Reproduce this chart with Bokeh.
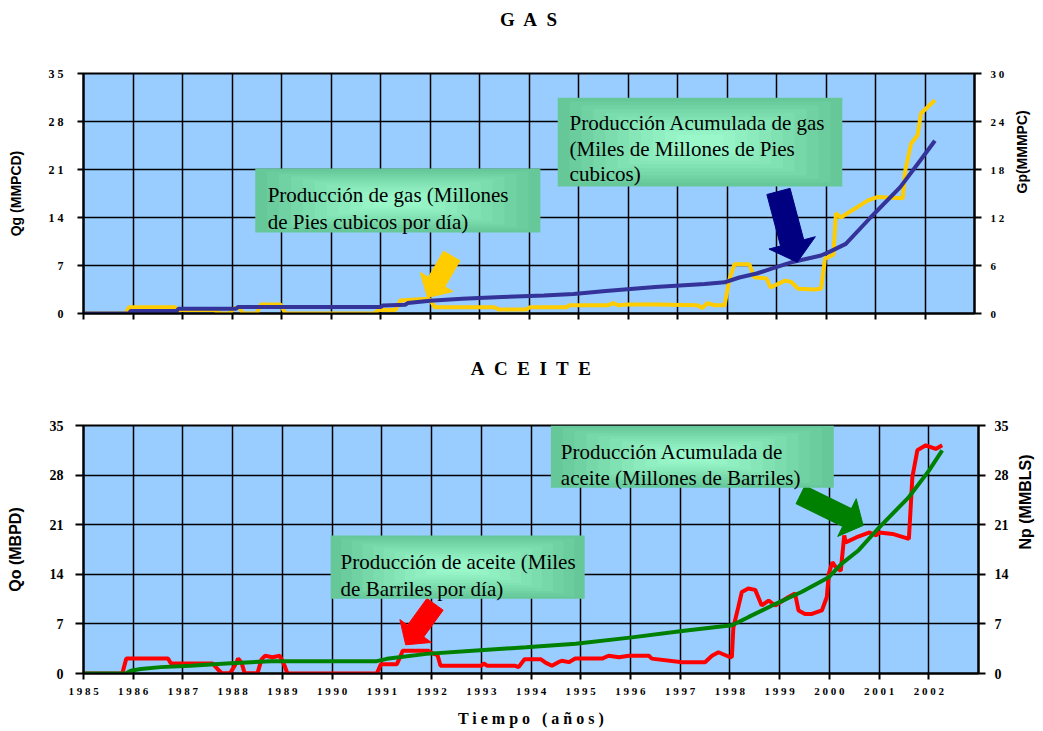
from math import hypot, pi
from bokeh.plotting import figure
from bokeh.models import Range1d, LinearAxis, FixedTicker, BoxAnnotation, Label
from bokeh.layouts import column
from bokeh.embed import file_html
from bokeh.resources import INLINE

# ---------------- data ----------------
years = [1985, 1986, 1987, 1988, 1989, 1990, 1991, 1992, 1993, 1994,
         1995, 1996, 1997, 1998, 1999, 2000, 2001, 2002]
year_labels = ["1 9 8 5", "1 9 8 6", "1 9 8 7", "1 9 8 8", "1 9 8 9", "1 9 9 0",
               "1 9 9 1", "1 9 9 2", "1 9 9 3", "1 9 9 4", "1 9 9 5", "1 9 9 6",
               "1 9 9 7", "1 9 9 8", "1 9 9 9", "2 0 0 0", "2 0 0 1", "2 0 0 2"]

qg_ticks = [0, 7, 14, 21, 28, 35]
qg_tick_labels = ["0", "7", "1 4", "2 1", "2 8", "3 5"]
gp_ticks = [0, 6, 12, 18, 24, 30]
gp_tick_labels = ["0", "6", "1 2", "1 8", "2 4", "3 0"]
qo_ticks = [0, 7, 14, 21, 28, 35]
qo_tick_labels = ["0", "7", "14", "21", "28", "35"]
np_ticks = [0, 7, 14, 21, 28, 35]
np_tick_labels = ["0", "7", "14", "21", "28", "35"]

# Gas rate Qg (MMPCD)
gas_year = [1985.0, 1985.85, 1985.92, 1986.85, 1986.92, 1987.65, 1987.75, 1987.95, 1988.05,
            1988.15, 1988.22, 1988.5, 1988.58, 1988.98, 1989.08, 1990.88, 1990.95, 1991.3,
            1991.4, 1991.9, 1992.0, 1992.1, 1993.3, 1993.38, 1993.95, 1994.02, 1994.75,
            1994.82, 1995.6, 1995.7, 1995.8, 1996.0, 1996.6, 1997.4, 1997.5, 1997.6,
            1997.75, 1997.95, 1998.05, 1998.15, 1998.45, 1998.55, 1998.8, 1998.88, 1999.17,
            1999.3, 1999.44, 1999.75, 1999.9, 1999.98, 2000.15, 2000.2, 2000.3, 2000.45,
            2000.85, 2001.05, 2001.55, 2001.6, 2001.72, 2001.85, 2001.92, 2002.2]
gas_rate = [0, 0, 0.9, 0.9, 0.5, 0.5, 0, 0, 0.8,
            0.8, 0, 0, 1.3, 1.3, 0, 0, 0.5, 0.5,
            1.9, 2.1, 2.0, 0.9, 0.9, 0.6, 0.6, 0.9, 0.9,
            1.2, 1.2, 1.5, 1.2, 1.3, 1.3, 1.2, 0.8, 1.5,
            1.2, 1.2, 5.0, 7.2, 7.2, 5.3, 5.1, 3.8, 4.8,
            4.6, 3.6, 3.5, 3.6, 8.0, 8.6, 14.6, 14.0, 14.7,
            16.5, 17.0, 16.8, 20.8, 24.8, 26.0, 29.2, 31.1]

# Cumulative gas Gp (MMMPC)
gp_year = [1985.0, 1985.92, 1985.95, 1986.88, 1986.92, 1988.08, 1988.12, 1991.0, 1991.05,
           1991.5, 1991.55, 1992.0, 1992.65, 1993.45, 1994.3, 1994.9, 1995.55, 1996.55,
           1997.55, 1997.95, 1998.25, 1998.6, 1998.9, 1999.3, 1999.9, 2000.1, 2000.4,
           2000.9, 2001.5, 2001.9, 2002.2]
gp_cum = [0, 0, 0.3, 0.3, 0.6, 0.6, 0.8, 0.8, 1.0,
          1.1, 1.3, 1.6, 1.85, 2.05, 2.25, 2.45, 2.8, 3.3,
          3.7, 3.9, 4.5, 5.0, 5.6, 6.4, 7.25, 7.8, 8.7,
          12.0, 15.8, 19.1, 21.6]

# Oil rate Qo (MBPD)
oil_year = [1985.0, 1985.78, 1985.86, 1986.7, 1986.76, 1987.6, 1987.7, 1987.78, 1987.95,
            1988.05, 1988.11, 1988.18, 1988.24, 1988.5, 1988.58, 1988.65, 1988.8, 1988.95,
            1989.05, 1989.1, 1990.9, 1990.98, 1991.3, 1991.36, 1991.42, 1991.94, 1992.0,
            1992.12, 1992.18, 1993.0, 1993.05, 1993.12, 1993.67, 1993.75, 1993.87, 1994.2,
            1994.3, 1994.42, 1994.55, 1994.62, 1994.76, 1994.89, 1995.43, 1995.56, 1995.77,
            1995.97, 1996.37, 1996.43, 1997.04, 1997.5, 1997.64, 1997.77, 1997.97, 1998.04,
            1998.07, 1998.17, 1998.24, 1998.37, 1998.51, 1998.64, 1998.78, 1998.91, 1999.18,
            1999.31, 1999.38, 1999.51, 1999.65, 1999.85, 1999.95, 1999.99, 2000.06, 2000.13,
            2000.23, 2000.3, 2000.33, 2000.54, 2000.81, 2000.94, 2001.0, 2001.27, 2001.6,
            2001.67, 2001.77, 2001.94, 2002.14, 2002.27]
oil_rate = [0, 0, 2.1, 2.1, 1.4, 1.4, 0.6, 0.05, 0.05,
            1.2, 2.1, 1.5, 0.05, 0.05, 2.0, 2.5, 2.3, 2.5,
            1.0, 0, 0, 1.3, 1.3, 2.2, 3.2, 3.2, 2.9,
            2.6, 1.1, 1.1, 1.4, 1.1, 1.1, 0.9, 2.0, 2.0,
            1.5, 1.1, 1.6, 1.8, 1.6, 2.1, 2.1, 2.5, 2.3,
            2.5, 2.5, 2.1, 1.6, 1.6, 2.5, 3.0, 2.4, 2.3,
            6.5, 9.4, 11.5, 12.0, 11.8, 9.6, 10.3, 9.6, 10.8,
            11.3, 8.9, 8.4, 8.4, 8.9, 10.8, 14.1, 15.7, 15.0,
            14.5, 19.5, 18.5, 19.2, 19.9, 19.5, 19.9, 19.7, 19.0,
            27.7, 31.5, 32.2, 31.7, 32.2]

# Cumulative oil Np (MMBLS)
np_year = [1985.0, 1985.85, 1985.95, 1986.15, 1986.55, 1987.15, 1987.96, 1988.77, 1990.9,
           1991.1, 1991.9, 1992.9, 1993.9, 1994.9, 1996.03, 1997.04, 1998.04, 1998.37,
           1998.91, 1999.44, 1999.99, 2000.25, 2000.59, 2001.0, 2001.6, 2002.0, 2002.27]
np_cum = [0, 0, 0.4, 0.63, 0.9, 1.1, 1.45, 1.74, 1.74,
          2.07, 2.77, 3.25, 3.7, 4.2, 5.1, 6.0, 6.8, 7.95,
          9.8, 11.5, 13.6, 15.5, 17.4, 20.6, 24.9, 28.6, 31.5]

SERIF = "Liberation Serif"
SANS = "Liberation Sans"
NB = "\u00a0"


def style_fig(p, ygrid_ticks):
    p.background_fill_color = "#99CCFF"
    p.border_fill_color = "white"
    p.outline_line_color = "black"
    p.outline_line_width = 2
    p.xgrid.ticker = FixedTicker(ticks=years[1:])
    p.ygrid.ticker = FixedTicker(ticks=ygrid_ticks)
    for g in (p.xgrid, p.ygrid):
        g.grid_line_color = "black"
        g.grid_line_width = 1.5
        g.grid_line_alpha = 1.0


def style_axis(ax, ticks, labels, tick_out, standoff, font_size, label, label_size, label_standoff):
    ax.ticker = FixedTicker(ticks=ticks)
    if labels is not None:
        ax.major_label_overrides = dict(zip(ticks, labels))
    ax.major_tick_out = tick_out
    ax.major_tick_in = 0
    ax.minor_tick_out = 0
    ax.minor_tick_in = 0
    ax.axis_line_width = 2
    ax.axis_line_color = "black"
    ax.major_tick_line_width = 2
    ax.major_tick_line_color = "black"
    ax.major_label_standoff = standoff
    ax.major_label_text_font = SERIF
    ax.major_label_text_font_style = "bold"
    ax.major_label_text_font_size = font_size
    ax.major_label_text_color = "black"
    ax.axis_label = label
    ax.axis_label_text_font = SANS
    ax.axis_label_text_font_style = "bold"
    ax.axis_label_text_font_size = label_size
    ax.axis_label_text_color = "black"
    ax.axis_label_standoff = label_standoff


def title_axis(p, text, standoff):
    ax = LinearAxis()
    ax.ticker = FixedTicker(ticks=[])
    ax.major_tick_out = 0
    ax.major_tick_in = 0
    ax.minor_tick_out = 0
    ax.minor_tick_in = 0
    ax.axis_line_color = None
    ax.major_label_standoff = 0
    ax.major_label_text_font_size = "1px"
    ax.major_label_text_color = None
    ax.axis_label = text
    ax.axis_label_text_font = SERIF
    ax.axis_label_text_font_style = "bold"
    ax.axis_label_text_font_size = "19px"
    ax.axis_label_text_color = "black"
    ax.axis_label_standoff = standoff
    p.add_layout(ax, "above")


def green_box(p, left, right, bottom, top):
    cols = ["#66C899", "#6BCD9E", "#70D2A3", "#76D7A8", "#7BDCAD", "#80E1B2",
            "#86E6B7", "#8BEBBC", "#90EFC1", "#95F3C6", "#99F7CA"]
    n = len(cols)
    w = right - left
    h = top - bottom
    for k, c in enumerate(cols):
        f = 0.46 * k / n
        p.add_layout(BoxAnnotation(left=left + f * w, right=right - f * w,
                                   bottom=bottom + f * h, top=top - f * h,
                                   fill_color=c, fill_alpha=1.0, line_color=None))


def add_text(p, x, ys, lines):
    for y, t in zip(ys, lines):
        p.add_layout(Label(x=x, y=y, text=t, text_font=SERIF, text_font_size="21px",
                           text_color="black", text_align="left",
                           text_baseline="alphabetic"))


def block_arrow(p, x0, y0, x1, y1, sx, sy, shaft, head_w, head_len, color):
    dx = (x1 - x0) * sx
    dy = (y1 - y0) * sy
    L = hypot(dx, dy)
    ux, uy = dx / L, dy / L
    nx, ny = -uy, ux
    bx = L - head_len
    pts = [(0, -shaft / 2), (bx, -shaft / 2), (bx, -head_w / 2), (L, 0),
           (bx, head_w / 2), (bx, shaft / 2), (0, shaft / 2)]
    xs = [x0 + (a * ux + b * nx) / sx for a, b in pts]
    ys = [y0 + (a * uy + b * ny) / sy for a, b in pts]
    p.patch(xs, ys, fill_color=color, line_color=color, line_width=1)


def upward_label(ax):
    try:
        ax.axis_label_orientation = pi / 2
    except Exception:
        ax.axis_label_text_color = "red"


# ================= GAS =================
FW1, FH1 = 891, 240
p1 = figure(frame_width=FW1, frame_height=FH1, x_range=Range1d(1985, 2003),
            y_range=Range1d(0, 35), output_backend="svg", toolbar_location=None,
            min_border_left=83, min_border_right=60, min_border_top=73,
            min_border_bottom=27)
p1.extra_y_ranges = {"gp": Range1d(0, 30)}
style_fig(p1, [7, 14, 21, 28])
sx1, sy1 = FW1 / 18.0, FH1 / 35.0

style_axis(p1.yaxis[0], qg_ticks, qg_tick_labels, 6, 14, "12px", "Qg (MMPCD)", "14px", 22)
xa1 = p1.xaxis[0]
style_axis(xa1, years, None, 6, 2, "1px", None, "1px", 0)
xa1.major_label_text_color = None

ra1 = LinearAxis(y_range_name="gp")
style_axis(ra1, gp_ticks, gp_tick_labels, 7, 9, "11px", "Gp(MMMPC)", "14px", 15)
upward_label(ra1)
p1.add_layout(ra1, "right")

title_axis(p1, "G" + NB + " A" + NB + " S", 44)

p1.line(gas_year, gas_rate, line_color="#FFCC00", line_width=4)
p1.line(gp_year, gp_cum, line_color="#333399", line_width=4, y_range_name="gp")

block_arrow(p1, 1992.44, 8.39, 1991.95, 2.33, sx1, sy1, 19, 38, 18, "#FFCC00")
block_arrow(p1, 1999.04, 17.8, 1999.42, 7.48, sx1, sy1, 24, 48, 20, "#000080")

green_box(p1, 1988.47, 1994.23, 11.81, 21.15)
add_text(p1, 1988.72, [17.21, 13.31], ["Producción de gas (Millones", "de Pies cubicos por día)"])
green_box(p1, 1994.58, 2000.33, 18.52, 31.45)
add_text(p1, 1994.82, [27.75, 24.02, 20.37],
         ["Producción Acumulada de gas", "(Miles de Millones de Pies", "cubicos)"])

# ================= ACEITE =================
FW2, FH2 = 895, 248
p2 = figure(frame_width=FW2, frame_height=FH2, x_range=Range1d(1985, 2003),
            y_range=Range1d(0, 35), output_backend="svg", toolbar_location=None,
            min_border_left=82, min_border_right=62, min_border_top=85,
            min_border_bottom=56)
p2.extra_y_ranges = {"np": Range1d(0, 35)}
style_fig(p2, [7, 14, 21, 28])
sx2, sy2 = FW2 / 18.0, FH2 / 35.0

style_axis(p2.yaxis[0], qo_ticks, qo_tick_labels, 8, 12, "14px", "Qo (MBPD)", "16px", 23)
xa2 = p2.xaxis[0]
tiempo = "T i e m p o" + NB + NB + " ( a ñ o s )"
style_axis(xa2, years, year_labels, 6, 5, "11px", tiempo, "16px", 10)
xa2.axis_label_text_font = SERIF

ra2 = LinearAxis(y_range_name="np")
style_axis(ra2, np_ticks, np_tick_labels, 7, 9, "14px", "Np (MMBLS)", "16px", 14)
upward_label(ra2)
p2.add_layout(ra2, "right")

title_axis(p2, "A" + NB + " C" + NB + " E" + NB + " I" + NB + " T" + NB + " E", 47)

p2.line(oil_year, oil_rate, line_color="#FF0000", line_width=4)
p2.line(np_year, np_cum, line_color="#008000", line_width=4, y_range_name="np")

block_arrow(p2, 1992.07, 9.77, 1991.48, 4.05, sx2, sy2, 20, 39, 17, "#FF0000")
block_arrow(p2, 1999.42, 25.23, 2000.68, 20.89, sx2, sy2, 20, 42, 18, "#008000")

green_box(p2, 1989.97, 1995.08, 10.54, 19.47)
add_text(p2, 1990.17, [15.71, 11.95], ["Producción de aceite (Miles", "de Barriles por día)"])
green_box(p2, 1994.4, 2000.09, 26.2, 35.0)
add_text(p2, 1994.6, [31.23, 27.62], ["Producción Acumulada de", "aceite (Millones de Barriles)"])

layout = column(p1, p2)
open("out.html", "w").write(file_html(layout, INLINE))
